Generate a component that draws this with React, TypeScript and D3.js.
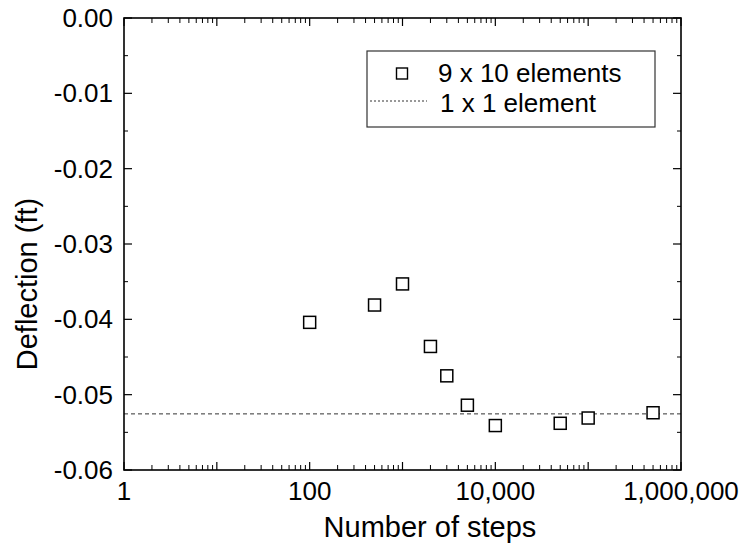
import React from "react";
import * as d3 from "d3";

const steps = [100, 500, 1000, 2000, 3000, 5000, 10000, 50000, 100000, 500000];
const deflection = [-0.0404, -0.0381, -0.0353, -0.0436, -0.0475, -0.0514, -0.0541, -0.0538, -0.0531, -0.0524];
const singleElement = -0.05255;
const xTickLabels = [1, 100, 10000, 1000000];
const yTicks = [0, -0.01, -0.02, -0.03, -0.04, -0.05, -0.06];
const legendLabels = ["9 x 10 elements", "1 x 1 element"];

const W = 740, H = 550;
const L = 124, R = 681, T = 18, B = 470;
const FONT = "'Liberation Sans', Arial, sans-serif";

export default function App() {
  const x = d3.scaleLog().domain([1, 1e6]).range([L, R]);
  const y = d3.scaleLinear().domain([-0.06, 0]).range([B, T]);

  const majorX: number[] = [];
  const minorX: number[] = [];
  for (let e = 0; e <= 6; e++) {
    majorX.push(Math.pow(10, e));
    if (e < 6) for (let k = 2; k <= 9; k++) minorX.push(k * Math.pow(10, e));
  }
  const minorY: number[] = [];
  for (let i = 0; i < 6; i++) minorY.push(-0.005 - i * 0.01);

  const fmtX = (v: number) => d3.format(",")(v);
  const fmtY = (v: number) => (v === 0 ? "0.00" : d3.format(".2f")(v).replace("\u2212", "-"));
  const sq = 12;

  return (
    <svg width={W} height={H} style={{ position: "absolute", left: 0, top: 0 }} fontFamily={FONT}>
      <rect x={0} y={0} width={W} height={H} fill="white" />
      {/* reference dashed line */}
      <line x1={L} x2={R} y1={y(singleElement)} y2={y(singleElement)} stroke="#333" strokeWidth={1} strokeDasharray="4,3" />
      {/* markers */}
      {steps.map((s, i) => (
        <rect key={i} x={x(s) - sq / 2} y={y(deflection[i]) - sq / 2} width={sq} height={sq} fill="white" stroke="#000" strokeWidth={1.5} />
      ))}
      {/* x ticks bottom & top */}
      {majorX.map((v, i) => (
        <g key={"mx" + i}>
          <line x1={x(v)} x2={x(v)} y1={B} y2={B - 8} stroke="#000" strokeWidth={1.2} />
          <line x1={x(v)} x2={x(v)} y1={T} y2={T + 8} stroke="#000" strokeWidth={1.2} />
        </g>
      ))}
      {minorX.map((v, i) => (
        <g key={"nx" + i}>
          <line x1={x(v)} x2={x(v)} y1={B} y2={B - 5} stroke="#000" strokeWidth={1} />
          <line x1={x(v)} x2={x(v)} y1={T} y2={T + 5} stroke="#000" strokeWidth={1} />
        </g>
      ))}
      {/* y ticks left & right */}
      {yTicks.map((v, i) => (
        <g key={"my" + i}>
          <line x1={L} x2={L + 8} y1={y(v)} y2={y(v)} stroke="#000" strokeWidth={1.2} />
          <line x1={R} x2={R - 8} y1={y(v)} y2={y(v)} stroke="#000" strokeWidth={1.2} />
        </g>
      ))}
      {minorY.map((v, i) => (
        <g key={"ny" + i}>
          <line x1={L} x2={L + 4} y1={y(v)} y2={y(v)} stroke="#000" strokeWidth={1} />
          <line x1={R} x2={R - 4} y1={y(v)} y2={y(v)} stroke="#000" strokeWidth={1} />
        </g>
      ))}
      {/* frame */}
      <rect x={L} y={T} width={R - L} height={B - T} fill="none" stroke="#000" strokeWidth={1.6} />
      {/* tick labels */}
      {xTickLabels.map((v, i) => (
        <text key={"xl" + i} x={x(v)} y={500} textAnchor="middle" fontSize={26} fill="#000">{fmtX(v)}</text>
      ))}
      {yTicks.map((v, i) => (
        <text key={"yl" + i} x={113} y={y(v) + 9} textAnchor="end" fontSize={26} fill="#000">{fmtY(v)}</text>
      ))}
      {/* axis titles */}
      <text x={430} y={537} textAnchor="middle" fontSize={29} fill="#000">Number of steps</text>
      <text transform={`translate(37,284) rotate(-90)`} textAnchor="middle" fontSize={29} fill="#000">Deflection (ft)</text>
      {/* legend */}
      <rect x={367} y={51} width={288} height={76} fill="white" stroke="#333" strokeWidth={1.2} />
      <rect x={402 - 5.5} y={73.5 - 5.5} width={11} height={11} fill="white" stroke="#000" strokeWidth={1.4} />
      <text x={438} y={82} fontSize={26} fill="#000">{legendLabels[0]}</text>
      <line x1={370} x2={427} y1={101} y2={101} stroke="#333" strokeWidth={1} strokeDasharray="2,2" />
      <text x={440} y={112} fontSize={26} fill="#000">{legendLabels[1]}</text>
    </svg>
  );
}
